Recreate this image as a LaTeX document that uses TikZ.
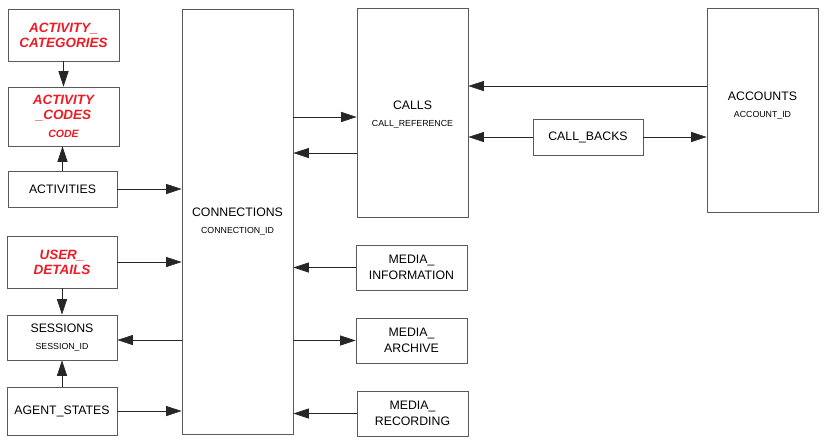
\documentclass[tikz,border=0pt]{standalone}
\usepackage{fontspec}
\setmainfont{Liberation Sans}
\usepackage{tikz}
\usetikzlibrary{arrows.meta}
\usetikzlibrary{calc}
\usepackage{xcolor}
\definecolor{keyred}{RGB}{236,28,36}
\definecolor{boxgray}{RGB}{90,90,90}

\begin{document}
\begin{tikzpicture}[x=0.03cm, y=-0.03cm,
	tbl/.style={draw=boxgray, line width=0.75pt, fill=white, align=center, inner sep=1pt, font=\fontsize{10.5}{13.5}\selectfont},
	keytbl/.style={tbl, text=keyred, font=\fontsize{11.5}{13}\selectfont\bfseries\itshape},
	arr/.style={-{Triangle[length=0.46cm, width=0.3cm]}, line width=0.6pt, black!85},
	]
	\useasboundingbox (0,0) rectangle (824,441);
	\newcommand{\idtext}[1]{\\[1pt]{\fontsize{7.5}{9}\selectfont #1}}
	
	% left column
	\node[keytbl, minimum width=3.33cm, minimum height=1.56cm] (actcat) at (63.5,35) {ACTIVITY\_\\CATEGORIES};
	\node[keytbl, minimum width=3.33cm, minimum height=1.77cm] (actcodes) at (63.5,116.5) {ACTIVITY\\\_CODES\\[2pt]{\fontsize{9}{11}\selectfont CODE}};
	\node[tbl, minimum width=3.27cm, minimum height=1.08cm] (activities) at (62.5,189) {ACTIVITIES};
	\node[keytbl, minimum width=3.30cm, minimum height=1.56cm] (userdet) at (62,262) {USER\_\\DETAILS};
	\node[tbl, minimum width=3.30cm, minimum height=1.35cm] (sessions) at (62,337.5) {SESSIONS\idtext{SESSION\_ID}};
	\node[tbl, minimum width=3.30cm, minimum height=1.44cm] (agent) at (62,411) {AGENT\_STATES};
	
	% centre
	\node[tbl, minimum width=3.33cm, minimum height=12.75cm] (conn) at (237.5,221.5) {CONNECTIONS\idtext{CONNECTION\_ID}};
	\node[tbl, minimum width=3.33cm, minimum height=6.27cm] (calls) at (412.5,112.5) {\mbox{}\\[-3pt]CALLS\idtext{CALL\_REFERENCE}};
	\node[tbl, minimum width=3.33cm, minimum height=1.35cm] (mediainfo) at (411.5,267.5) {MEDIA\_\\INFORMATION};
	\node[tbl, minimum width=3.33cm, minimum height=1.35cm] (mediaarch) at (411.5,340.5) {MEDIA\_\\ARCHIVE};
	\node[tbl, minimum width=3.33cm, minimum height=1.35cm] (mediarec) at (412.5,413.5) {MEDIA\_\\RECORDING};
	
	% right
	\node[tbl, minimum width=3.30cm, minimum height=1.08cm] (callbacks) at (588,137) {CALL\_BACKS};
	\node[tbl, minimum width=3.33cm, minimum height=6.12cm] (accounts) at (762.5,110) {ACCOUNTS\idtext{ACCOUNT\_ID}\\[-5pt]\mbox{}};
	
	\draw[arr] (actcat.south) -- (actcodes.north);
	\draw[arr] (activities.north) -- (activities.north |- actcodes.south);
	\draw[arr] (activities.east) -- (activities.east -| conn.west);
	\draw[arr] (userdet.east) -- (userdet.east -| conn.west);
	\draw[arr] (userdet.south) -- (sessions.north);
	\draw[arr] ($(conn.west |- sessions.east)+(0,2.5)$) -- ($(sessions.east)+(0,2.5)$);
	\draw[arr] (agent.north) -- (sessions.south);
	\draw[arr] (agent.east) -- (agent.east -| conn.west);
	
	\draw[arr] ($(conn.east |- calls.west)+(0,4.5)$) -- ($(calls.west)+(0,4.5)$);
	\draw[arr] ($(calls.west)+(0,40.5)$) -- ($(conn.east |- calls.west)+(0,40.5)$);
	\draw[arr] ($(accounts.west)+(0,-24)$) -- ($(calls.east |- accounts.west)+(0,-24)$);
	\draw[arr] (callbacks.west) -- (callbacks.west -| calls.east);
	\draw[arr] (callbacks.east) -- (callbacks.east -| accounts.west);
	
	\draw[arr] (mediainfo.west) -- (mediainfo.west -| conn.east);
	\draw[arr] (conn.east |- mediaarch.west) -- (mediaarch.west);
	\draw[arr] (mediarec.west) -- (mediarec.west -| conn.east);
	
\end{tikzpicture}
\end{document}
